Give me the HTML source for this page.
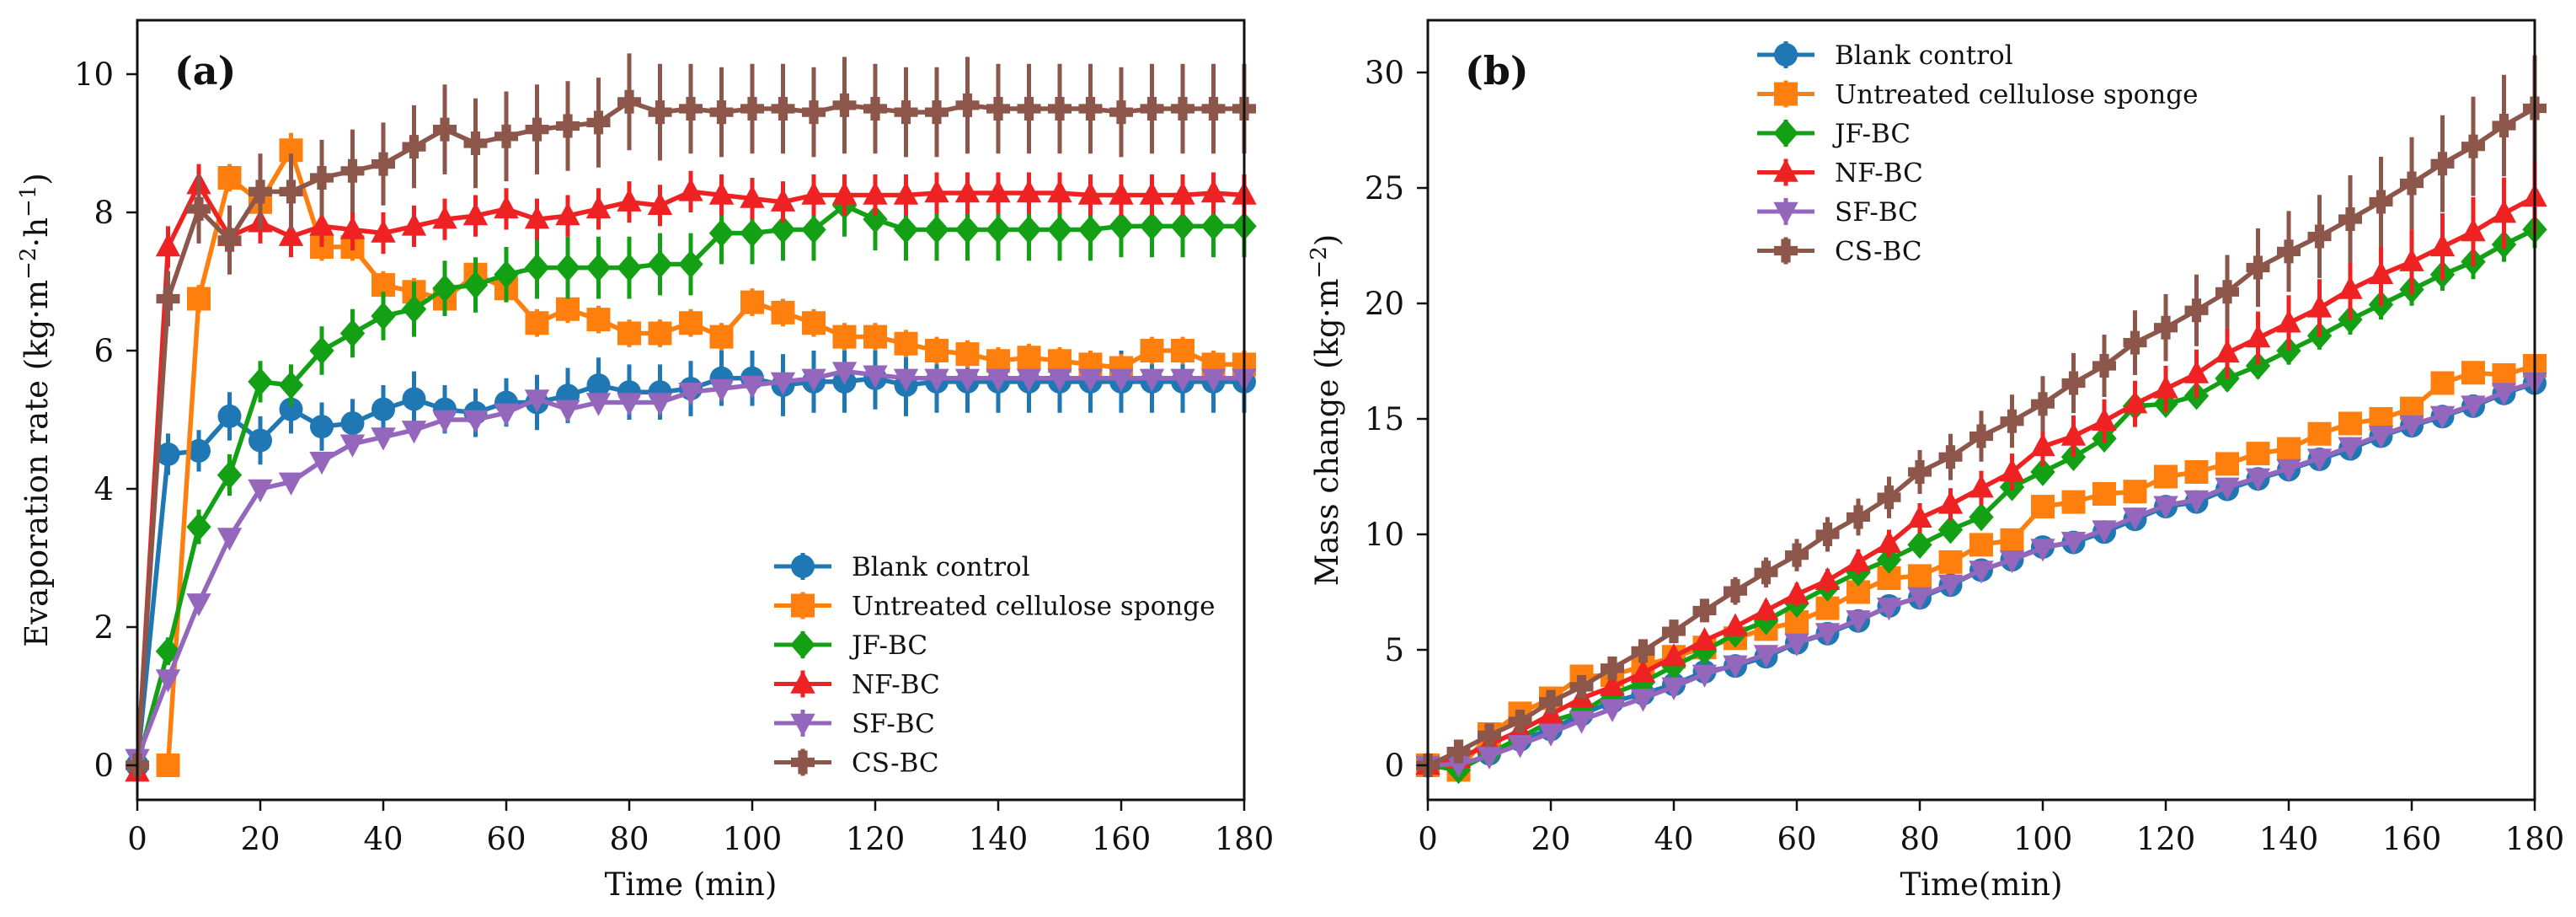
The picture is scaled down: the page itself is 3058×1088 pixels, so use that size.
<!DOCTYPE html>
<html><head><meta charset="utf-8">
<style>
html,body{margin:0;padding:0;background:#fff;}
svg{display:block;}
text{font-family:"DejaVu Serif","Liberation Serif",serif;fill:#111;}
</style></head>
<body>
<svg id="fig" width="3058" height="1088" viewBox="0 0 3058 1088" xmlns="http://www.w3.org/2000/svg">
<rect x="0" y="0" width="3058" height="1088" fill="#fff"/>
<g id="panelA"></g>
<g id="panelB"></g>
</svg>
<script>
const times = [0,5,10,15,20,25,30,35,40,45,50,55,60,65,70,75,80,85,90,95,100,105,110,115,120,125,130,135,140,145,150,155,160,165,170,175,180];
const seriesNames = ["Blank control","Untreated cellulose sponge","JF-BC","NF-BC","SF-BC","CS-BC"];
const xTicks = [0,20,40,60,80,100,120,140,160,180];
const yTicksA = [0,2,4,6,8,10];
const yTicksB = [0,5,10,15,20,25,30];

// Panel (a) evaporation rate
const rateBlank = [0,4.5,4.55,5.05,4.7,5.15,4.9,4.95,5.15,5.3,5.15,5.1,5.25,5.25,5.35,5.5,5.4,5.4,5.45,5.6,5.6,5.5,5.55,5.55,5.6,5.5,5.55,5.55,5.55,5.55,5.55,5.55,5.55,5.55,5.55,5.55,5.55];
const errBlank = [0,0.3,0.3,0.35,0.35,0.35,0.35,0.35,0.35,0.4,0.35,0.35,0.35,0.4,0.4,0.4,0.4,0.4,0.4,0.4,0.4,0.45,0.45,0.45,0.45,0.45,0.45,0.45,0.45,0.45,0.45,0.45,0.45,0.45,0.45,0.45,0.45];
const rateUntreated = [null,0,6.75,8.5,8.15,8.9,7.5,7.5,6.95,6.85,6.75,7.1,6.9,6.4,6.6,6.45,6.25,6.25,6.4,6.2,6.7,6.55,6.4,6.2,6.2,6.1,6.0,5.95,5.85,5.9,5.85,5.8,5.75,6.0,6.0,5.8,5.8];
const errUntreated = [0,0,0.2,0.2,0.25,0.25,0.2,0.2,0.2,0.2,0.2,0.2,0.2,0.2,0.2,0.2,0.2,0.2,0.2,0.2,0.2,0.2,0.2,0.2,0.2,0.2,0.2,0.2,0.2,0.2,0.2,0.2,0.2,0.2,0.2,0.2,0.2];
const rateJF = [0,1.65,3.45,4.2,5.55,5.5,6.0,6.25,6.5,6.6,6.9,6.95,7.1,7.2,7.2,7.2,7.2,7.25,7.25,7.7,7.7,7.75,7.75,8.1,7.9,7.75,7.75,7.75,7.75,7.75,7.75,7.75,7.8,7.8,7.8,7.8,7.8];
const errJF = [0,0.2,0.25,0.3,0.3,0.3,0.35,0.35,0.35,0.4,0.4,0.4,0.4,0.45,0.45,0.45,0.45,0.45,0.45,0.45,0.45,0.45,0.45,0.45,0.45,0.45,0.45,0.45,0.45,0.45,0.45,0.45,0.45,0.45,0.45,0.45,0.45];
const rateNF = [-0.1,7.5,8.4,7.65,7.85,7.65,7.8,7.75,7.7,7.8,7.9,7.95,8.05,7.9,7.95,8.05,8.15,8.1,8.3,8.25,8.2,8.15,8.25,8.25,8.25,8.25,8.28,8.28,8.28,8.28,8.28,8.25,8.25,8.25,8.25,8.28,8.25];
const errNF = [0,0.3,0.3,0.3,0.3,0.3,0.3,0.3,0.3,0.3,0.3,0.3,0.3,0.3,0.3,0.3,0.3,0.3,0.3,0.3,0.3,0.3,0.3,0.3,0.3,0.3,0.3,0.3,0.3,0.3,0.3,0.3,0.3,0.3,0.3,0.3,0.3];
const rateSF = [0.1,1.25,2.35,3.3,4.0,4.1,4.4,4.65,4.75,4.85,5.0,5.0,5.1,5.3,5.15,5.25,5.25,5.25,5.4,5.45,5.5,5.55,5.6,5.7,5.65,5.6,5.6,5.6,5.6,5.6,5.6,5.6,5.6,5.6,5.6,5.6,5.6];
const errSF = [0,0.1,0.1,0.1,0.1,0.1,0.1,0.1,0.1,0.1,0.1,0.1,0.1,0.12,0.12,0.12,0.12,0.12,0.12,0.12,0.12,0.12,0.12,0.12,0.12,0.12,0.12,0.12,0.12,0.12,0.12,0.12,0.12,0.12,0.12,0.12,0.12];
const rateCS = [0,6.75,8.05,7.6,8.3,8.3,8.5,8.6,8.7,8.95,9.2,9.0,9.1,9.2,9.25,9.3,9.6,9.45,9.5,9.45,9.5,9.5,9.45,9.55,9.5,9.45,9.45,9.55,9.5,9.5,9.5,9.5,9.45,9.5,9.5,9.5,9.5];
const errCS = [0,0.4,0.5,0.5,0.55,0.55,0.55,0.6,0.6,0.6,0.65,0.65,0.65,0.65,0.65,0.65,0.7,0.7,0.65,0.65,0.65,0.65,0.65,0.7,0.65,0.65,0.65,0.7,0.65,0.65,0.65,0.65,0.65,0.65,0.65,0.65,0.65];

// Panel (b) cumulative mass change
const massBlank = [0,-0.1,0.5,1.1,1.55,2.2,2.75,3.1,3.5,4.05,4.3,4.7,5.3,5.7,6.25,6.9,7.25,7.8,8.45,8.9,9.45,9.65,10.1,10.65,11.2,11.4,11.95,12.4,12.8,13.25,13.7,14.25,14.7,15.1,15.55,16.1,16.55];
const errMassBlank = [0,0.1,0.1,0.1,0.1,0.1,0.1,0.1,0.1,0.1,0.1,0.1,0.15,0.15,0.15,0.15,0.15,0.15,0.15,0.15,0.2,0.2,0.2,0.2,0.2,0.2,0.2,0.2,0.2,0.25,0.25,0.25,0.25,0.25,0.3,0.3,0.3];
const massUntreated = [0,-0.2,1.35,2.25,2.9,3.85,3.9,4.3,4.7,5.1,5.5,5.9,6.2,6.8,7.5,8.1,8.2,8.8,9.55,9.75,11.2,11.4,11.75,11.85,12.5,12.7,13.05,13.5,13.7,14.35,14.8,15.0,15.45,16.55,17.0,16.9,17.3];
const errMassUntreated = [0,0.1,0.15,0.15,0.15,0.2,0.2,0.2,0.2,0.2,0.2,0.2,0.2,0.2,0.2,0.25,0.25,0.25,0.25,0.25,0.3,0.3,0.3,0.3,0.3,0.3,0.3,0.3,0.35,0.35,0.35,0.35,0.35,0.4,0.4,0.4,0.4];
const massJF = [0,-0.2,0.5,1.2,1.9,2.3,3.1,3.6,4.3,4.95,5.7,6.25,7.0,7.7,8.35,8.9,9.55,10.2,10.75,12.05,12.7,13.35,14.15,15.55,15.65,16.0,16.75,17.3,17.95,18.6,19.3,19.95,20.6,21.25,21.8,22.55,23.2];
const errMassJF = [0,0.05,0.1,0.1,0.1,0.15,0.15,0.15,0.2,0.2,0.2,0.25,0.25,0.3,0.3,0.3,0.35,0.35,0.4,0.4,0.4,0.45,0.45,0.5,0.5,0.5,0.55,0.55,0.6,0.6,0.65,0.65,0.7,0.7,0.75,0.75,0.8];
const massNF = [0,0.3,0.9,1.5,2.2,2.9,3.4,4.0,4.7,5.4,6.0,6.7,7.4,8.0,8.8,9.6,10.7,11.3,12.0,12.7,13.8,14.25,14.9,15.65,16.3,16.95,17.85,18.5,19.15,19.8,20.6,21.25,21.8,22.45,23.1,23.9,24.6];
const errMassNF = [0,0.1,0.1,0.15,0.2,0.2,0.25,0.3,0.3,0.35,0.4,0.45,0.5,0.5,0.55,0.6,0.65,0.7,0.75,0.8,0.85,0.9,0.95,1.0,1.0,1.05,1.1,1.15,1.2,1.25,1.3,1.35,1.4,1.45,1.5,1.55,1.6];
const massSF = [0,0.05,0.4,0.9,1.4,1.95,2.45,2.9,3.4,3.95,4.35,4.8,5.3,5.75,6.3,6.85,7.3,7.85,8.45,8.9,9.4,9.7,10.2,10.75,11.25,11.5,12.05,12.45,12.85,13.3,13.8,14.3,14.75,15.15,15.6,16.15,16.6];
const errMassSF = [0,0.1,0.1,0.1,0.1,0.1,0.1,0.1,0.1,0.1,0.1,0.1,0.15,0.15,0.15,0.15,0.15,0.15,0.15,0.15,0.2,0.2,0.2,0.2,0.2,0.2,0.2,0.2,0.2,0.25,0.25,0.25,0.25,0.25,0.3,0.3,0.3];
const massCS = [0,0.6,1.3,1.9,2.75,3.4,4.2,4.95,5.8,6.7,7.55,8.35,9.1,10.0,10.75,11.6,12.7,13.35,14.25,14.9,15.65,16.55,17.3,18.3,18.95,19.7,20.5,21.55,22.25,22.9,23.65,24.4,25.2,26.05,26.8,27.7,28.45];
const errMassCS = [0,0.1,0.15,0.2,0.25,0.3,0.35,0.4,0.45,0.5,0.6,0.65,0.7,0.75,0.8,0.9,0.95,1.0,1.1,1.15,1.2,1.3,1.35,1.4,1.45,1.55,1.6,1.7,1.75,1.8,1.9,1.95,2.0,2.1,2.15,2.2,2.3];

const colors = ["#1f77b4","#ff7f0e","#14a014","#ee2222","#9467bd","#8c564b"];
const markers = ["circle","square","diamond","triUp","triDown","plus"];
const NS = "http://www.w3.org/2000/svg";

function mk(tag, attrs, parent){
  const e = document.createElementNS(NS, tag);
  for (const k in attrs) e.setAttribute(k, attrs[k]);
  parent.appendChild(e);
  return e;
}
function markerPath(type, cx, cy, s){
  const r = s/2;
  if (type==="square") return `M${cx-r},${cy-r}h${s}v${s}h${-s}z`;
  if (type==="diamond") return `M${cx},${cy-r*1.2}L${cx+r*1.05},${cy}L${cx},${cy+r*1.2}L${cx-r*1.05},${cy}z`;
  if (type==="triUp") return `M${cx},${cy-r*1.15}L${cx+r*1.05},${cy+r*0.8}L${cx-r*1.05},${cy+r*0.8}z`;
  if (type==="triDown") return `M${cx},${cy+r*1.15}L${cx+r*1.05},${cy-r*0.8}L${cx-r*1.05},${cy-r*0.8}z`;
  if (type==="plus"){ const a=r*0.4; return `M${cx-a},${cy-r}h${2*a}v${r-a}h${r-a}v${2*a}h${a-r}v${r-a}h${-2*a}v${a-r}h${a-r}v${-2*a}h${r-a}z`; }
  return `M${cx-r},${cy}a${r},${r} 0 1,0 ${s},0a${r},${r} 0 1,0 ${-s},0z`;
}

function drawPanel(g, cfg){
  const L=cfg.left, R=cfg.left+1314, T=24, B=949;
  const xs = v => L + (v-0)/180*(R-L);
  const ys = v => cfg.y0 - v*cfg.ppu;
  for (let s=0; s<cfg.vals.length; s++){
    const sg = mk("g",{},g);
    
    
    const v = cfg.vals[s], er = cfg.errs[s];
    let d = "";
    for (let i=0;i<times.length;i++){
      if (v[i]===null) continue;
      d += (d===""?"M":"L") + xs(times[i]).toFixed(1) + "," + ys(v[i]).toFixed(1);
    }
    const line = mk("path",{d:d,fill:"none",stroke:colors[s],"stroke-width":5.5,"stroke-linejoin":"round"},sg);
    
    
    for (let i=0;i<times.length;i++){
      if (v[i]===null) continue;
      if (er[i]>0){
        const eb = mk("line",{x1:xs(times[i]),x2:xs(times[i]),y1:ys(v[i]-er[i]),y2:ys(v[i]+er[i]),stroke:colors[s],"stroke-width":5},sg);
        
        
      }
      const m = mk("path",{d:markerPath(markers[s], xs(times[i]), ys(v[i]), 28),fill:colors[s]},sg);
      
      
    }
  }
  const frame = mk("rect",{x:L,y:T,width:R-L,height:B-T,fill:"none",stroke:"#111","stroke-width":3},g);
  
  
  for (const t of xTicks){
    const tl = mk("line",{x1:xs(t),x2:xs(t),y1:B,y2:B+13,stroke:"#111","stroke-width":2.5},g);
    
    
    const tx = mk("text",{x:xs(t),y:1008,"font-size":37,"text-anchor":"middle"},g);
    tx.textContent = t;
    
    
  }
  for (const t of cfg.yTicks){
    const tl = mk("line",{x1:L-13,x2:L,y1:ys(t),y2:ys(t),stroke:"#111","stroke-width":2.5},g);
    
    
    const tx = mk("text",{x:L-28,y:ys(t)+13,"font-size":37,"text-anchor":"end"},g);
    tx.textContent = t;
    
    
  }
  const xt = mk("text",{x:(L+R)/2,y:1062,"font-size":37,"text-anchor":"middle"},g);
  xt.textContent = cfg.xTitle;
  
  
  const yt = mk("text",{x:0,y:0,"font-size":37,"text-anchor":"middle",transform:`translate(${cfg.yTitleX},${(T+B)/2}) rotate(-90)`},g);
  yt.innerHTML = cfg.yTitle;
  
  
  const pl = mk("text",{x:L+44,y:100,"font-size":46,"font-weight":"bold"},g);
  pl.textContent = cfg.label;
  
  
  const lg = mk("g",{},g);
  
  
  for (let s=0;s<6;s++){
    const y = cfg.legY + 46.5*s;
    const eg = mk("g",{},lg);
    
    
    mk("line",{x1:cfg.legX,x2:cfg.legX+68,y1:y,y2:y,stroke:colors[s],"stroke-width":5},eg);
    mk("line",{x1:cfg.legX+34,x2:cfg.legX+34,y1:y-16,y2:y+16,stroke:colors[s],"stroke-width":5},eg);
    mk("path",{d:markerPath(markers[s], cfg.legX+34, y, 28),fill:colors[s]},eg);
    const tx = mk("text",{x:cfg.legX+92,y:y+11,"font-size":31},eg);
    tx.textContent = seriesNames[s];
  }
}

drawPanel(document.getElementById("panelA"),{
  left:163, y0:908, ppu:82, yTicks:yTicksA, label:"(a)",
  vals:[rateBlank,rateUntreated,rateJF,rateNF,rateSF,rateCS],
  errs:[errBlank,errUntreated,errJF,errNF,errSF,errCS],
  xTitle:"Time (min)", yTitleX:56,
  yTitle:'Evaporation rate (kg·m<tspan dy="-14" font-size="26">−2</tspan><tspan dy="14">·h</tspan><tspan dy="-14" font-size="26">−1</tspan><tspan dy="14">)</tspan>',
  legX:919, legY:672
});
drawPanel(document.getElementById("panelB"),{
  left:1695, y0:908, ppu:27.4, yTicks:yTicksB, label:"(b)",
  vals:[massBlank,massUntreated,massJF,massNF,massSF,massCS],
  errs:[errMassBlank,errMassUntreated,errMassJF,errMassNF,errMassSF,errMassCS],
  xTitle:"Time(min)", yTitleX:1588,
  yTitle:'Mass change (kg·m<tspan dy="-14" font-size="26">−2</tspan><tspan dy="14">)</tspan>',
  legX:2086, legY:65
});
</script>
</body></html>
